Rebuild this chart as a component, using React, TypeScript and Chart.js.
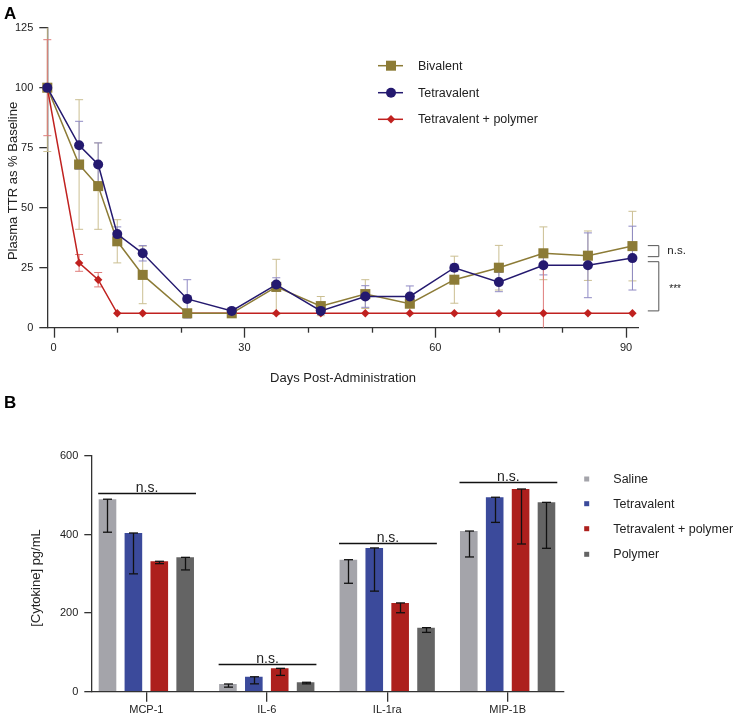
import React, { useEffect, useRef } from 'react';
import { Chart, registerables } from 'chart.js';

Chart.register(...registerables);

const FONT = "'Liberation Sans', Arial, Helvetica, sans-serif";
const TEXT = '#222222';
const AXIS = '#333333';

// ---------- Panel A data ----------
const days = [-1, 4, 7, 10, 14, 21, 28, 35, 42, 49, 56, 63, 70, 77, 84, 91];
const bivalent = [100, 68, 59, 36, 22, 6, 6, 17, 9, 14, 10, 20, 25, 31, 30, 34];
const bivalentErr = [26.6, 27, 18, 9, 12, 1.5, 1, 11.5, 4, 6, 4.3, 9.8, 9.3, 11, 10.3, 14.5];
const tetravalent = [100, 76, 68, 39, 31, 12, 7, 18, 7, 13, 13, 25, 19, 26, 26, 29];
const tetravalentErr = [1.5, 10, 9, 3, 3.2, 8, 1, 2.8, 1, 4.5, 4.4, 1.5, 4, 4, 13.5, 13.3];
const tetraPolymer = [100, 27, 20, 6, 6, 6, 6, 6, 6, 6, 6, 6, 6, 6, 6, 6];
const tetraPolymerErr = [20, 3.5, 3, 0, 0, 0, 0, 0, 0, 0, 0, 0, 0, 21, 0, 0];
const xTicksA = [0, 10, 20, 30, 40, 50, 60, 70, 80, 90];
const seriesNamesA = ['Bivalent', 'Tetravalent', 'Tetravalent + polymer'];
const bracketNS = [34.2, 29.6];
const bracketStars = [27.5, 7];

// ---------- Panel B data ----------
const cytokines = ['MCP-1', 'IL-6', 'IL-1ra', 'MIP-1B'];
const groupNamesB = ['Saline', 'Tetravalent', 'Tetravalent + polymer', 'Polymer'];
const saline = [490, 19.6, 336, 409];
const salineErr = [84, 8, 60, 66];
const tetra = [404, 38, 366, 495];
const tetraErr = [104, 18, 110, 64];
const tetraPoly = [332, 59.5, 226, 516];
const tetraPolyErr = [6, 18, 25, 140];
const polymerOnly = [342, 24, 163, 482];
const polymerOnlyErr = [32, 4, 12, 117];
const sigLevelsB = [505, 70.5, 379, 534.6];
const sigLabelB = 'n.s.';

const TAN = '#8c7b36';
const NAVY = '#24196f';
const RED = '#c0211f';
const TAN_ERR = '#cbbf92';
const NAVY_ERR = '#8f8ac4';
const RED_ERR = '#df7d7b';

const BAR_COLORS = ['#a4a4aa', '#3b4a9b', '#ad201d', '#646464'];

function line(ctx: CanvasRenderingContext2D, x1: number, y1: number, x2: number, y2: number) {
  ctx.beginPath();
  ctx.moveTo(x1, y1);
  ctx.lineTo(x2, y2);
  ctx.stroke();
}

function marker(ctx: CanvasRenderingContext2D, style: string, x: number, y: number, color: string) {
  ctx.fillStyle = color;
  ctx.beginPath();
  if (style === 'rect') {
    ctx.rect(x - 5, y - 5, 10, 10);
  } else if (style === 'circle') {
    ctx.arc(x, y, 5, 0, Math.PI * 2);
  } else {
    ctx.moveTo(x, y - 4.2);
    ctx.lineTo(x + 4.2, y);
    ctx.lineTo(x, y + 4.2);
    ctx.lineTo(x - 4.2, y);
    ctx.closePath();
  }
  ctx.fill();
}

export default function App() {
  const refA = useRef<HTMLCanvasElement>(null);
  const refB = useRef<HTMLCanvasElement>(null);

  useEffect(() => {
    const seriesA = [
      { name: seriesNamesA[0], values: bivalent, err: bivalentErr, color: TAN, errColor: TAN_ERR, style: 'rect' },
      { name: seriesNamesA[1], values: tetravalent, err: tetravalentErr, color: NAVY, errColor: NAVY_ERR, style: 'circle' },
      { name: seriesNamesA[2], values: tetraPolymer, err: tetraPolymerErr, color: RED, errColor: RED_ERR, style: 'rectRot' },
    ];
    const orders = [1, 0, 2];
    const radii = [7.1, 5, 4.2];

    const pluginA = {
      id: 'panelA',
      beforeDatasetsDraw(chart: any) {
        const { ctx, chartArea, scales } = chart;
        const x = scales.x, y = scales.y;
        ctx.save();
        ctx.beginPath();
        ctx.rect(chartArea.left - 8, chartArea.top, chartArea.right - chartArea.left + 16, chartArea.bottom - chartArea.top);
        ctx.clip();
        ctx.lineWidth = 1;
        seriesA.forEach((s) => {
          ctx.strokeStyle = s.errColor;
          days.forEach((d, i) => {
            const e = s.err[i];
            if (!e) return;
            const px = x.getPixelForValue(d);
            const t = y.getPixelForValue(s.values[i] + e);
            const b = y.getPixelForValue(s.values[i] - e);
            line(ctx, px, t, px, b);
            line(ctx, px - 4, t, px + 4, t);
            line(ctx, px - 4, b, px + 4, b);
          });
        });
        ctx.restore();
      },
      afterDraw(chart: any) {
        const { ctx, chartArea, scales } = chart;
        const x = scales.x, y = scales.y;
        ctx.save();
        // x tick marks
        ctx.strokeStyle = AXIS;
        ctx.lineWidth = 1.3;
        xTicksA.forEach((v) => {
          const px = Math.round(x.getPixelForValue(v)) + 0.5;
          const len = v % 30 === 0 ? 10 : 5;
          line(ctx, px, chartArea.bottom, px, chartArea.bottom + len);
        });
        // legend
        const rowsY = [65.7, 92.7, 119.3];
        seriesA.forEach((s, i) => {
          ctx.strokeStyle = s.color;
          ctx.lineWidth = 1.5;
          line(ctx, 378, rowsY[i], 403, rowsY[i]);
          marker(ctx, s.style, 391, rowsY[i], s.color);
          ctx.fillStyle = TEXT;
          ctx.font = `12.5px ${FONT}`;
          ctx.textAlign = 'left';
          ctx.textBaseline = 'middle';
          ctx.fillText(s.name, 418, rowsY[i] + 0.5);
        });
        // brackets
        const bl = chartArea.right + 9;
        const br = chartArea.right + 20;
        ctx.strokeStyle = '#555555';
        ctx.lineWidth = 1;
        const drawBracket = (v1: number, v2: number) => {
          const y1 = y.getPixelForValue(v1), y2 = y.getPixelForValue(v2);
          ctx.beginPath();
          ctx.moveTo(bl, y1);
          ctx.lineTo(br, y1);
          ctx.lineTo(br, y2);
          ctx.lineTo(bl, y2);
          ctx.stroke();
          return (y1 + y2) / 2;
        };
        const m1 = drawBracket(bracketNS[0], bracketNS[1]);
        const m2 = drawBracket(bracketStars[0], bracketStars[1]);
        ctx.fillStyle = TEXT;
        ctx.textAlign = 'left';
        ctx.textBaseline = 'middle';
        ctx.font = `11.5px ${FONT}`;
        ctx.fillText('n.s.', br + 8.5, m1);
        ctx.font = `10px ${FONT}`;
        ctx.fillText('***', br + 10.5, m2 + 3);
        // axis titles
        ctx.font = `13px ${FONT}`;
        ctx.textAlign = 'center';
        ctx.textBaseline = 'middle';
        ctx.fillText('Days Post-Administration', (chartArea.left + chartArea.right) / 2, 378.3);
        ctx.save();
        ctx.translate(13.5, 181);
        ctx.rotate(-Math.PI / 2);
        ctx.fillText('Plasma TTR as % Baseline', 0, 0);
        ctx.restore();
        // panel letter
        ctx.font = `bold 17px ${FONT}`;
        ctx.textAlign = 'left';
        ctx.textBaseline = 'alphabetic';
        ctx.fillStyle = '#000';
        ctx.fillText('A', 4, 18.5);
        ctx.restore();
      },
    };

    const chartA = new Chart(refA.current as HTMLCanvasElement, {
      type: 'line',
      data: {
        datasets: seriesA.map((s, i) => ({
          label: s.name,
          data: days.map((d, j) => ({ x: d, y: s.values[j] })),
          borderColor: s.color,
          backgroundColor: s.color,
          pointBackgroundColor: s.color,
          pointBorderColor: s.color,
          pointStyle: s.style,
          pointRadius: radii[i],
          pointBorderWidth: 0,
          borderWidth: 1.5,
          order: orders[i],
          clip: false,
          tension: 0,
        })),
      } as any,
      options: {
        responsive: false,
        animation: false,
        events: [],
        layout: { padding: { left: 0, top: 27.7, right: 736 - 638.8, bottom: 0 } },
        plugins: { legend: { display: false }, tooltip: { enabled: false } },
        scales: {
          x: {
            type: 'linear',
            min: -1,
            max: 92,
            afterBuildTicks: (s: any) => {
              s.ticks = xTicksA.map((v) => ({ value: v }));
            },
            afterFit: (s: any) => {
              s.height = 388 - 327.7;
            },
            ticks: {
              autoSkip: false,
              maxRotation: 0,
              padding: 13.4,
              color: TEXT,
              font: { family: FONT, size: 11 },
              callback: (v: any) => (Number(v) % 30 === 0 ? String(v) : ''),
            },
            grid: { display: false, drawTicks: false, tickLength: 0 },
            border: { display: true, color: AXIS, width: 1.3 },
          },
          y: {
            type: 'linear',
            min: 0,
            max: 125,
            afterFit: (s: any) => {
              s.width = 47.3;
            },
            ticks: {
              stepSize: 25,
              padding: 6,
              color: TEXT,
              font: { family: FONT, size: 11 },
            },
            grid: { display: true, drawOnChartArea: false, drawTicks: true, tickLength: 8, color: AXIS, lineWidth: 1.3 },
            border: { display: true, color: AXIS, width: 1.3 },
          },
        },
      } as any,
      plugins: [pluginA],
    });

    // ---------- Panel B ----------
    const valsB = [saline, tetra, tetraPoly, polymerOnly];
    const errsB = [salineErr, tetraErr, tetraPolyErr, polymerOnlyErr];

    const pluginB = {
      id: 'panelB',
      afterDatasetsDraw(chart: any) {
        const { ctx, scales } = chart;
        const y = scales.y;
        ctx.save();
        ctx.strokeStyle = '#111111';
        ctx.lineWidth = 1.3;
        valsB.forEach((vals, di) => {
          const meta = chart.getDatasetMeta(di);
          meta.data.forEach((bar: any, j: number) => {
            const px = Math.round(bar.x) + 0.5;
            const t = y.getPixelForValue(vals[j]);
            const b = y.getPixelForValue(vals[j] - errsB[di][j]);
            line(ctx, px, t, px, b);
            line(ctx, px - 4.5, t, px + 4.5, t);
            line(ctx, px - 4.5, b, px + 4.5, b);
          });
        });
        // significance lines
        const m0 = chart.getDatasetMeta(0);
        const m3 = chart.getDatasetMeta(3);
        cytokines.forEach((_, j) => {
          const b0: any = m0.data[j];
          const b3: any = m3.data[j];
          const left = b0.x - b0.width / 2 - 0.5;
          const right = b3.x + b3.width / 2 + 2;
          const ly = Math.round(y.getPixelForValue(sigLevelsB[j])) + 0.5;
          ctx.strokeStyle = '#111111';
          ctx.lineWidth = 1.3;
          line(ctx, left, ly, right, ly);
          ctx.fillStyle = TEXT;
          ctx.font = `14px ${FONT}`;
          ctx.textAlign = 'center';
          ctx.textBaseline = 'alphabetic';
          ctx.fillText(sigLabelB, (left + right) / 2, ly - 2);
        });
        ctx.restore();
      },
      afterDraw(chart: any) {
        const { ctx } = chart;
        ctx.save();
        const rows = [479, 503.7, 528.7, 554.3].map((v) => v - 388);
        groupNamesB.forEach((name, i) => {
          ctx.fillStyle = BAR_COLORS[i];
          ctx.fillRect(584.2, rows[i] - 2.5, 5, 5);
          ctx.fillStyle = TEXT;
          ctx.font = `12.5px ${FONT}`;
          ctx.textAlign = 'left';
          ctx.textBaseline = 'middle';
          ctx.fillText(name, 613.3, rows[i] + 0.5);
        });
        ctx.font = `13px ${FONT}`;
        ctx.textAlign = 'center';
        ctx.textBaseline = 'middle';
        ctx.save();
        ctx.translate(36.7, 578 - 388);
        ctx.rotate(-Math.PI / 2);
        ctx.fillText('[Cytokine] pg/mL', 0, 0);
        ctx.restore();
        ctx.font = `bold 17px ${FONT}`;
        ctx.textAlign = 'left';
        ctx.textBaseline = 'alphabetic';
        ctx.fillStyle = '#000';
        ctx.fillText('B', 4, 408 - 388);
        ctx.restore();
      },
    };

    const chartB = new Chart(refB.current as HTMLCanvasElement, {
      type: 'bar',
      data: {
        datasets: valsB.map((vals, di) => ({
          label: groupNamesB[di],
          data: vals.map((v, j) => ({ x: j, y: v })),
          backgroundColor: BAR_COLORS[di],
          borderWidth: 0,
          categoryPercentage: 0.86,
          barPercentage: 0.68,
        })),
      } as any,
      options: {
        responsive: false,
        animation: false,
        events: [],
        layout: { padding: { left: 0, top: 456 - 388, right: 736 - 564, bottom: 0 } },
        plugins: { legend: { display: false }, tooltip: { enabled: false } },
        scales: {
          x: {
            type: 'linear',
            min: -0.457,
            max: 3.468,
            offset: false,
            afterBuildTicks: (s: any) => {
              s.ticks = cytokines.map((_, i) => ({ value: i }));
            },
            afterFit: (s: any) => {
              s.height = 328 - (691.7 - 388);
            },
            ticks: {
              autoSkip: false,
              maxRotation: 0,
              padding: 1.5,
              color: TEXT,
              font: { family: FONT, size: 11 },
              callback: (v: any) => cytokines[Number(v)] ?? '',
            },
            grid: { display: true, offset: false, drawOnChartArea: false, drawTicks: true, tickLength: 10, color: AXIS, lineWidth: 1.3 },
            border: { display: true, color: AXIS, width: 1.3 },
          },
          y: {
            type: 'linear',
            min: 0,
            max: 600,
            afterFit: (s: any) => {
              s.width = 91.3;
            },
            ticks: {
              stepSize: 200,
              padding: 6,
              color: TEXT,
              font: { family: FONT, size: 11 },
            },
            grid: { display: true, drawOnChartArea: false, drawTicks: true, tickLength: 7, color: AXIS, lineWidth: 1.3 },
            border: { display: true, color: AXIS, width: 1.3 },
          },
        },
      } as any,
      plugins: [pluginB],
    });

    return () => {
      chartA.destroy();
      chartB.destroy();
    };
  }, []);

  return (
    <div style={{ position: 'fixed', left: 0, top: 0, width: 736, height: 716, background: '#ffffff' }}>
      <canvas ref={refA} width={736} height={388} style={{ position: 'absolute', left: 0, top: 0 }} />
      <canvas ref={refB} width={736} height={328} style={{ position: 'absolute', left: 0, top: 388 }} />
    </div>
  );
}
